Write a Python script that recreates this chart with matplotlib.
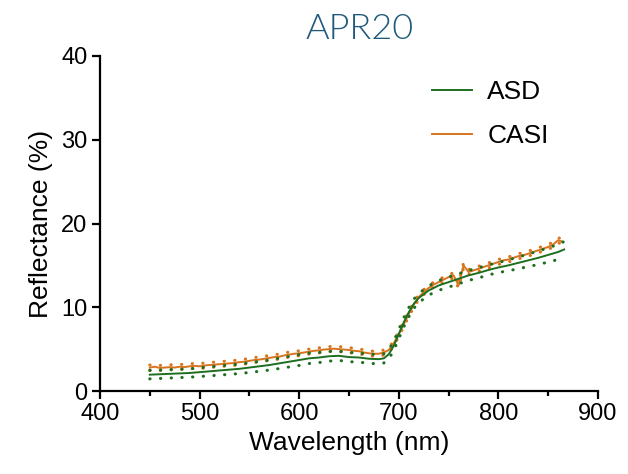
import numpy as np
import matplotlib
matplotlib.use("Agg")
import matplotlib.pyplot as plt
from matplotlib.lines import Line2D

# ---- data ----
asd_wl = [450, 460, 470, 480, 490, 500, 510, 520, 530, 540, 550, 560, 570, 580, 590,
          600, 610, 620, 630, 640, 650, 660, 670, 680, 685, 690, 695, 700, 705, 710,
          715, 720, 730, 740, 750, 760, 770, 780, 790, 800, 810, 820, 830, 840, 850,
          860, 866]
asd_mean = [1.95, 2.0, 2.05, 2.1, 2.15, 2.25, 2.35, 2.45, 2.55, 2.65, 2.8, 2.95, 3.1, 3.3, 3.5,
            3.7, 3.9, 4.0, 4.15, 4.2, 4.05, 4.0, 3.85, 3.8, 3.9, 4.4, 5.4, 6.8, 8.2, 9.4,
            10.4, 11.1, 12.0, 12.6, 13.0, 13.4, 13.8, 14.1, 14.45, 14.75, 15.0, 15.3, 15.6, 15.9, 16.25,
            16.6, 16.9]
asd_sd = [0.5, 0.5, 0.5, 0.5, 0.5, 0.52, 0.54, 0.55, 0.56, 0.57, 0.58, 0.6, 0.6, 0.62, 0.63,
          0.65, 0.62, 0.6, 0.58, 0.55, 0.55, 0.55, 0.55, 0.55, 0.55, 0.55, 0.55, 0.55, 0.55, 0.55,
          0.55, 0.55, 0.55, 0.58, 0.6, 0.6, 0.6, 0.6, 0.6, 0.6, 0.65, 0.7, 0.75, 0.8, 0.85,
          0.9, 0.95]

casi_wl = [450, 455, 460, 465, 470, 475, 480, 485, 490, 495, 500, 505, 510, 515, 520,
           525, 530, 535, 540, 545, 550, 555, 560, 565, 570, 575, 580, 585, 590, 595,
           600, 605, 610, 615, 620, 625, 630, 635, 640, 645, 650, 655, 660, 665, 670,
           675, 680, 685, 690, 695, 700, 705, 710, 715, 720, 725, 730, 735, 740, 745,
           750, 755, 760, 765, 770, 775, 780, 785, 790, 795, 800, 805, 810, 815, 820,
           825, 830, 835, 840, 845, 850, 855, 860, 865]
casi_mean = [2.8, 2.9, 2.75, 2.8, 2.85, 2.8, 2.9, 2.85, 2.95, 3.0, 2.95, 3.05, 3.1, 3.15, 3.2,
             3.25, 3.3, 3.35, 3.45, 3.5, 3.6, 3.7, 3.75, 3.85, 3.95, 4.05, 4.1, 4.25, 4.35, 4.45,
             4.5, 4.6, 4.7, 4.8, 4.85, 4.95, 5.0, 5.05, 5.0, 4.95, 4.9, 4.8, 4.75, 4.6, 4.5,
             4.45, 4.45, 4.6, 4.9, 5.7, 6.8, 8.0, 9.2, 10.3, 11.2, 11.8, 12.3, 12.7, 13.0, 13.3,
             13.6, 13.8, 12.6, 15.0, 14.2, 14.4, 14.6, 14.8, 15.0, 15.2, 15.4, 15.6, 15.7, 15.9, 16.1,
             16.2, 16.4, 16.6, 16.8, 17.0, 17.2, 17.5, 18.0, 17.8]
casi_sd = [0.3] * len(casi_wl)

green = "#1b6f1f"
orange = "#d8741e"

plt.rcParams['font.family'] = ['Liberation Sans', 'DejaVu Sans']

fig = plt.figure(figsize=(6.28, 4.74), dpi=100)
ax = fig.add_axes([100/628, 1-391/474, 498/628, 335/474])

aw = np.array(asd_wl); am = np.array(asd_mean); asd = np.array(asd_sd)
cw = np.array(casi_wl); cm = np.array(casi_mean); csd = np.array(casi_sd)

dot = dict(linestyle=(0, (0.1, 3.4)), dash_capstyle='round', lw=2.2)
ax.plot(cw, cm + csd, color=orange, **dot)
ax.plot(cw, cm - csd, color=orange, **dot)
ax.plot(cw, cm, color=orange, lw=1.4)
ax.plot(aw, am + asd, color=green, **dot)
ax.plot(aw, am - asd, color=green, **dot)
ax.plot(aw, am, color=green, lw=1.4)

ax.set_xlim(400, 900)
ax.set_ylim(0, 40)
ax.set_xticks([400, 500, 600, 700, 800, 900])
ax.set_xticks([450, 550, 650, 750, 850], minor=True)
ax.set_yticks([0, 10, 20, 30, 40])
for s in ['top', 'right']:
    ax.spines[s].set_visible(False)
for s in ['left', 'bottom']:
    ax.spines[s].set_linewidth(1.6)
ax.tick_params(axis='both', which='major', length=6, width=1.6, labelsize=17, pad=3)
ax.tick_params(axis='x', which='minor', length=3.5, width=1.6)
ax.set_xlabel("Wavelength (nm)", fontsize=19, labelpad=4)
ax.set_ylabel("Reflectance (%)", fontsize=19, labelpad=6)

fig.text(360/628, 1-29/474, "APR20", ha='center', va='center', fontsize=26,
         color="#1f5a7c", family=['Lato', 'DejaVu Sans'], fontweight=300)

handles = [Line2D([], [], color=green, lw=1.4), Line2D([], [], color=orange, lw=1.4)]
ax.legend(handles, ["ASD", "CASI"], loc='upper left', frameon=False, fontsize=19,
          bbox_to_anchor=(432/628, 1-80/474), bbox_transform=fig.transFigure,
          borderpad=0, borderaxespad=0, handlelength=1.5, handletextpad=0.6,
          labelspacing=0.75)

fig.savefig("out.png", dpi=100)
